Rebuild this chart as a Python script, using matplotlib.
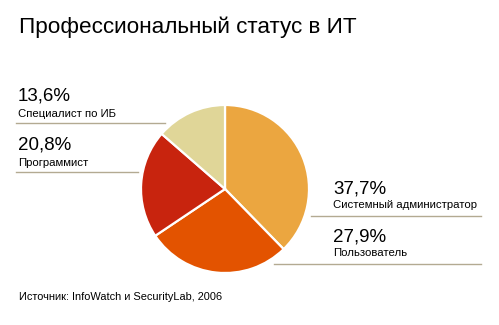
import matplotlib
matplotlib.use("Agg")
import matplotlib.pyplot as plt

plt.rcParams['font.family'] = ['Liberation Sans', 'DejaVu Sans']

title = "Профессиональный статус в ИТ"
source = "Источник: InfoWatch и SecurityLab, 2006"

# slices, clockwise from twelve o'clock
labels = ["Системный администратор", "Пользователь", "Программист", "Специалист по ИБ"]
shares = [37.7, 27.9, 20.8, 13.6]
colors = ["#EBA640", "#E35300", "#C8240E", "#E0D698"]

W, H = 499, 325
fig = plt.figure(figsize=(W / 100, H / 100), dpi=100)
ax = fig.add_axes([0, 0, 1, 1])


def py(y):
    # pixel row measured from the top -> data y
    return H - y


ax.pie(shares, colors=colors, startangle=90, counterclock=False,
       center=(225, py(189)), radius=84, frame=True,
       wedgeprops=dict(edgecolor='white', linewidth=1.6))
ax.set_xlim(0, W)
ax.set_ylim(0, H)
ax.set_aspect('equal')
ax.axis('off')

ax.text(19, py(27), title, fontsize=16.2, va='center', ha='left')

pct = lambda v: f"{v:.1f}%".replace('.', ',')

line_color = "#B3AA92"
# (index into the series, text x, percent y, label y, rule y, rule x0, rule x1)
callouts = [
    (3, 18, 96, 114, 123, 16, 165),
    (2, 18, 145, 163, 172, 16, 138),
    (0, 333, 189, 205, 216, 311, 481),
    (1, 333, 237, 253, 264, 274, 481),
]
for i, tx, yp, yl, yr, x0, x1 in callouts:
    ax.text(tx, py(yp), pct(shares[i]), fontsize=13.5, va='center', ha='left')
    ax.text(tx, py(yl), labels[i], fontsize=8.2, va='center', ha='left')
    ax.plot([x0, x1], [py(yr), py(yr)], color=line_color, linewidth=1)

ax.text(19, py(297), source, fontsize=7.9, va='center', ha='left')

fig.savefig("out.png", dpi=100)
